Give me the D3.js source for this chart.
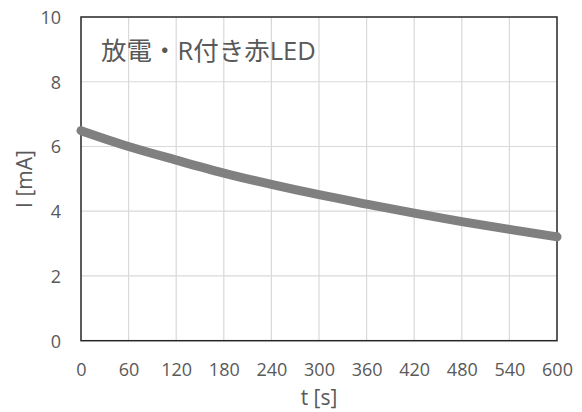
<!DOCTYPE html>
<html>
<head>
<meta charset="utf-8">
<script src="https://cdn.jsdelivr.net/npm/d3@7"></script>
<style>
  html, body { margin: 0; padding: 0; background: #fff; }
  svg { display: block; }
  text { font-family: "Open Sans", "Noto Sans CJK JP", sans-serif; fill: #595959; }
</style>
</head>
<body>
<svg id="chart" width="582" height="412"></svg>
<script>
const timeSeconds = [0, 60, 120, 180, 240, 300, 360, 420, 480, 540, 600];
const currentMilliAmps = [6.49, 6.00, 5.58, 5.18, 4.83, 4.51, 4.22, 3.94, 3.68, 3.44, 3.21];
const xTicks = [0, 60, 120, 180, 240, 300, 360, 420, 480, 540, 600];
const yTicks = [0, 2, 4, 6, 8, 10];
const chartTitle = "放電・R付き赤LED";
const xLabel = "t [s]";
const yLabel = "I [mA]";

const svg = d3.select("#chart");
const plot = { left: 81, right: 557, top: 17, bottom: 340.7 };

const x = d3.scaleLinear().domain([0, 600]).range([plot.left, plot.right]);
const y = d3.scaleLinear().domain([0, 10]).range([plot.bottom, plot.top]);

// gridlines
const grid = svg.append("g");
grid.selectAll("line.v").data(xTicks.slice(1, -1)).enter().append("line")
  .attr("x1", d => x(d)).attr("x2", d => x(d))
  .attr("y1", plot.top).attr("y2", plot.bottom)
  .attr("stroke", "#d9d9d9").attr("stroke-width", 1.2);
grid.selectAll("line.h").data(yTicks.slice(1, -1)).enter().append("line")
  .attr("y1", d => y(d)).attr("y2", d => y(d))
  .attr("x1", plot.left).attr("x2", plot.right)
  .attr("stroke", "#d9d9d9").attr("stroke-width", 1.2);

// axes (labels only)
const xAxis = d3.axisBottom(x).tickValues(xTicks).tickSize(0).tickPadding(0).tickFormat(d3.format("d"));
const gx = svg.append("g").attr("transform", `translate(0,${plot.bottom})`).call(xAxis);
gx.select(".domain").remove();
gx.selectAll("text").attr("dy", null).attr("y", 35)
  .style("font-size", "18px").style("fill", "#595959");

const yAxis = d3.axisLeft(y).tickValues(yTicks).tickSize(0).tickPadding(0).tickFormat(d3.format("d"));
const gy = svg.append("g").attr("transform", `translate(${plot.left},0)`).call(yAxis);
gy.select(".domain").remove();
gy.selectAll("text").attr("x", -20).attr("dy", "0.35em")
  .style("font-size", "18px").style("fill", "#595959");

// plot border
svg.append("rect")
  .attr("x", plot.left).attr("y", plot.top)
  .attr("width", plot.right - plot.left).attr("height", plot.bottom - plot.top)
  .attr("fill", "none").attr("stroke", "#262626").attr("stroke-width", 1.5);

// data line
const data = timeSeconds.map((t, i) => ({ t, v: currentMilliAmps[i] }));
const line = d3.line().x(d => x(d.t)).y(d => y(d.v)).curve(d3.curveMonotoneX);
svg.append("path").datum(data)
  .attr("d", line)
  .attr("fill", "none").attr("stroke", "#808080")
  .attr("stroke-width", 9).attr("stroke-linecap", "round").attr("stroke-linejoin", "round");

// title
svg.append("text").attr("x", 101).attr("y", 60)
  .style("font-size", "25.5px")
  .style("font-family", "'Open Sans', 'Noto Sans CJK JP', sans-serif")
  .text(chartTitle);

// axis titles
svg.append("text").attr("x", 319).attr("y", 405).attr("text-anchor", "middle")
  .style("font-size", "21px").text(xLabel);
svg.append("text").attr("transform", "translate(32,179) rotate(-90)")
  .attr("text-anchor", "middle").style("font-size", "21px").text(yLabel);
</script>
</body>
</html>
